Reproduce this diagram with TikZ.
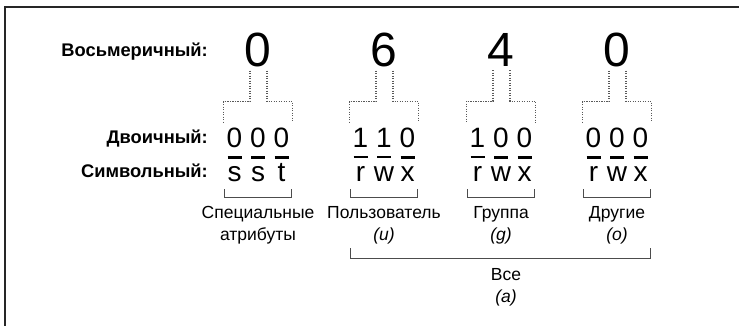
\documentclass[tikz,border=0pt]{standalone}
\usepackage{fontspec}
\setmainfont{Liberation Sans}
\usetikzlibrary{positioning}
\tikzset{
  Okt/.style={font=\fontsize{48}{48}\selectfont, inner sep=0pt, anchor=base}, % Oktalziffern
  Bin/.style={font=\fontsize{28}{28}\selectfont, inner sep=0pt, anchor=base}, % Bits und Rechte
  Titel/.style={font=\bfseries\fontsize{18.3}{18}\selectfont, inner sep=0pt, anchor=base east},
  Txt/.style={font=\fontsize{17.5}{18}\selectfont, inner sep=0pt, anchor=base},
  Punkt/.style={draw=black!65, line width=1.2pt, dash pattern=on 1.2pt off 1.3pt},
  Strich/.style={line width=2.6pt},
  Klammer/.style={draw=black!70, line width=1.3pt}
}

\begin{document}
\begin{tikzpicture}[x=1pt, y=-1pt]
\useasboundingbox (0,0) rectangle (739,326);

%Rahmen
\draw[line width=2pt, black!85] (739,7) -- (5,7) -- (5,326);

%Zeilentitel
\node[Titel] (t-okt) at (208,57) {Восьмеричный:};
\node[Titel] (t-bin) at (208,143) {Двоичный:};
\node[Titel] (t-sym) at (208,178) {Символьный:};

%Gruppen
\foreach \g/\x/\oz/\ba/\bb/\bc/\sa/\sb/\sc/\eins/\zwei in {
  1/258/0/0/0/0/s/s/t/Специальные/атрибуты,
  2/384/6/1/1/0/r/w/x/Пользователь/\textit{(u)},
  3/501/4/1/0/0/r/w/x/Группа/\textit{(g)},
  4/617/0/0/0/0/r/w/x/Другие/\textit{(o)}}
{
  \node[Okt] (okt\g) at (\x,67) {\oz};
  \foreach \i/\d/\s in {1/\ba/\sa, 2/\bb/\sb, 3/\bc/\sc}{
    \node[Bin] (bin-\g-\i) at (\x+23.5*\i-47,147) {\d};
    \node[Bin] (sym-\g-\i) at (\x+23.5*\i-47,182) {\s};
    \draw[Strich] ([xshift=-7pt,yshift=-10pt]bin-\g-\i.south) -- ++(14,0);
  }
  %Punktklammer Oktal -> Bits
  \draw[Punkt] ([xshift=-8pt,yshift=-3pt]okt\g.south) -- ++(0,31) -| ([xshift=-11pt,yshift=5pt]bin-\g-1.north);
  \draw[Punkt] ([xshift=9pt,yshift=-3pt]okt\g.south) -- ++(0,31) -| ([xshift=11pt,yshift=5pt]bin-\g-3.north);
  %Klammer unter den Rechten
  \draw[Klammer] ([xshift=-10pt,yshift=-7pt]sym-\g-1.south) -- ++(0,8) -| ([xshift=10pt,yshift=-7pt]sym-\g-3.south);
  \node[Txt] (z1-\g) at (\x,218) {\eins};
  \node[Txt] (z2-\g) at (\x,240) {\zwei};
}

%Alle
\draw[Klammer] ([xshift=-10pt,yshift=-66pt]sym-2-1.south) -- ++(0,10) -| ([xshift=10pt,yshift=-66pt]sym-4-3.south);
\node[Txt] (alle) at (506,280) {Все};
\node[Txt] (alle-k) at (506,302) {\textit{(a)}};

\end{tikzpicture}
\end{document}
